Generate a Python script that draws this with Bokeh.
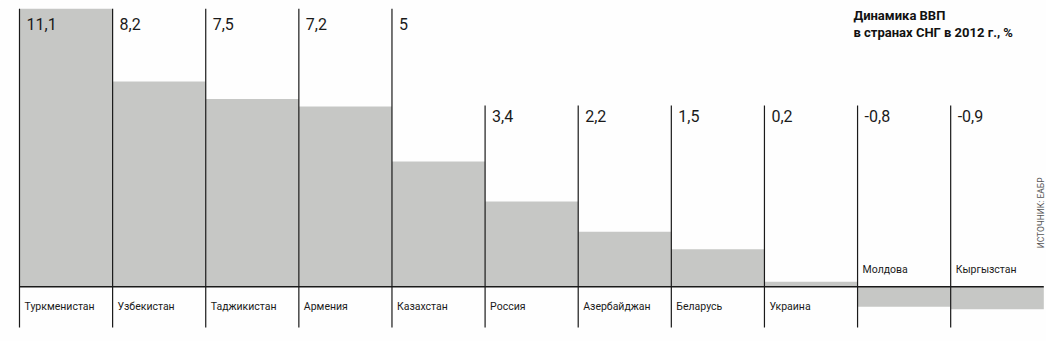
from bokeh.plotting import figure
from bokeh.models import Range1d, ColumnDataSource
from bokeh.embed import file_html
from bokeh.resources import INLINE
from bokeh.core.properties import value

countries = ["Туркменистан", "Узбекистан", "Таджикистан", "Армения", "Казахстан",
             "Россия", "Азербайджан", "Беларусь", "Украина", "Молдова", "Кыргызстан"]
growth = [11.1, 8.2, 7.5, 7.2, 5.0, 3.4, 2.2, 1.5, 0.2, -0.8, -0.9]
value_labels = ["11,1", "8,2", "7,5", "7,2", "5", "3,4", "2,2", "1,5", "0,2", "-0,8", "-0,9"]

title_lines = ["Динамика ВВП", "в странах СНГ в 2012 г., %"]
source_text = "ИСТОЧНИК: ЕАБР"

FONT = "Roboto"
BAR = "#c6c7c5"
INK = "#1a1a1a"

n = len(countries)
idx = list(range(n))
top_max = max(growth)
upper = [v >= 5 for v in growth]
line_top = [top_max if u else 7.24 for u in upper]
val_y = [10.51 if u else 6.8 for u in upper]
cat_y = [-0.775 if v >= 0 else 0.69 for v in growth]

src = ColumnDataSource(dict(
    left=idx, right=[i + 1 for i in idx], top=growth, bottom=[0] * n,
    x=idx, ltop=line_top, lbot=[-1.625] * n, vy=val_y, cy=cat_y,
    vlab=value_labels, clab=countries,
))

p = figure(width=1046, height=341, output_backend="svg", toolbar_location=None,
           x_range=Range1d(-0.204, 11.029), y_range=Range1d(-2.184, 11.429),
           min_border=0, x_axis_location=None, y_axis_location=None,
           background_fill_color="#fefefe", border_fill_color="#fefefe",
           outline_line_color=None)
p.xgrid.visible = False
p.ygrid.visible = False

p.quad(left="left", right="right", top="top", bottom="bottom", source=src,
       fill_color=BAR, line_color=None)

p.segment(x0="x", x1="x", y0="lbot", y1="ltop", source=src,
          line_color=INK, line_width=1.2)
p.segment(x0=[0], x1=[n], y0=[0], y1=[0], line_color=INK, line_width=1.6)

p.text(x="x", y="vy", text="vlab", source=src, x_offset=7,
       text_font=value(FONT), text_font_size="16px", text_color=INK,
       text_baseline="middle", text_align="left")

p.text(x="x", y="cy", text="clab", source=src, x_offset=5,
       text_font=value(FONT), text_font_size="10.5px", text_color=INK,
       text_baseline="middle", text_align="left")

p.text(x=[8.956, 8.956], y=[10.85, 10.15], text=title_lines,
       text_font=value(FONT), text_font_size="13px", text_font_style="bold",
       text_color="#111111", text_baseline="middle", text_align="left")

p.text(x=[10.965], y=[2.95], text=[source_text], angle=1.5708,
       text_font=value(FONT), text_font_size="8.5px", text_color="#555555",
       text_baseline="middle", text_align="center")

open("out.html", "w").write(file_html(p, INLINE))
